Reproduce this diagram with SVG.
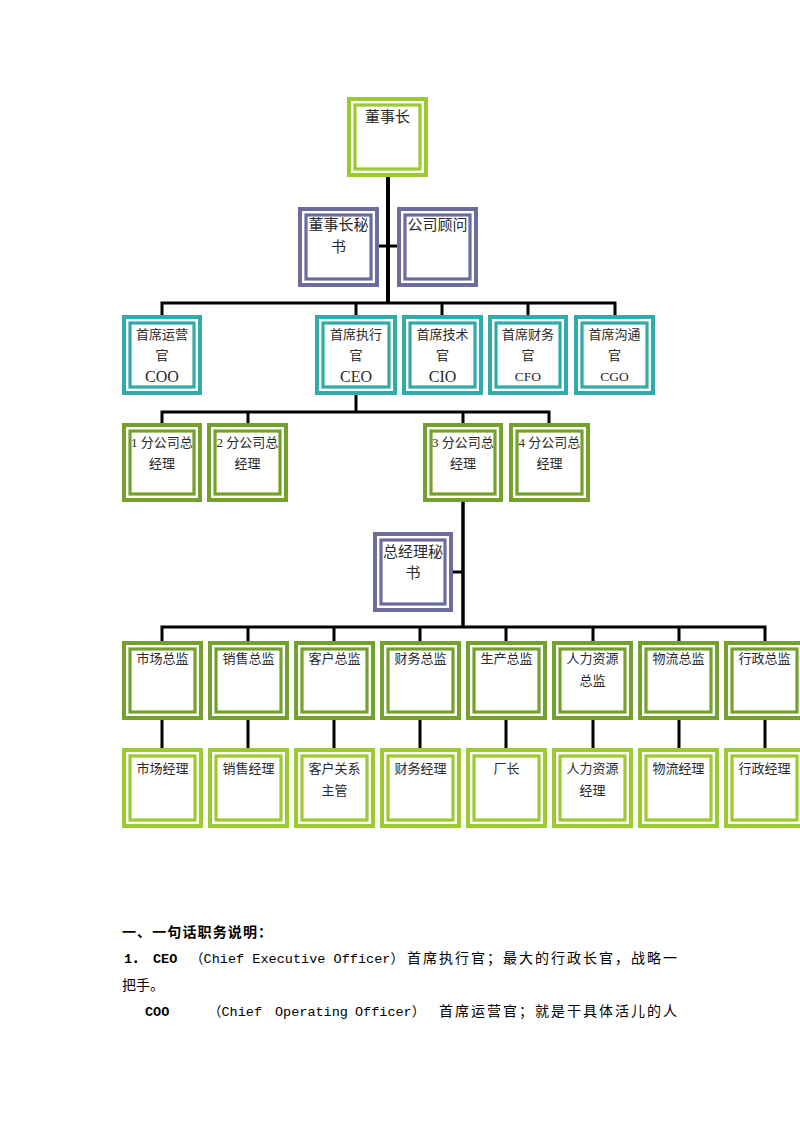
<svg xmlns="http://www.w3.org/2000/svg" width="800" height="1132" viewBox="0 0 800 1132">
<style>
  .o{fill:#fff;stroke-width:4}
  .i{fill:none;stroke-width:3.2}
  .lg{stroke:#9BCB2E}
  .dg{stroke:#74A12B}
  .pu{stroke:#6E6B9F}
  .te{stroke:#31AAAA}
  .t{font-family:"Liberation Serif","Noto Sans CJK SC",serif;fill:#2a2a2a;text-anchor:middle}
  .t15{font-size:15px}
  .t13{font-size:13px}
  .en16{font-size:16px}
  .en14{font-size:13.5px}
  .c{stroke:#000;stroke-width:3;fill:none}
  .m{font-family:"Liberation Mono","Noto Sans CJK SC",monospace;font-size:13.5px;fill:#000}
  .z{font-family:"Liberation Serif","Noto Sans CJK SC",serif;font-size:14px;fill:#000}
  .b{font-weight:bold}
</style>
<rect width="800" height="1132" fill="#fff"/>

<g id="connectors">
  <path class="c" d="M388 177V303" style="stroke-width:4"/>
  <path class="c" d="M379 246H397"/>
  <path class="c" d="M162 315V303H615V315M356 303V315M442 303V315M528 303V315"/>
  <path class="c" d="M356 395V412"/>
  <path class="c" d="M162 423V412H549V423M248 412V423M463 412V423"/>
  <path class="c" d="M463 502V627" style="stroke-width:3.5"/>
  <path class="c" d="M453 572H463"/>
  <path class="c" d="M162 641V627H765V641M248 627V641M334 627V641M420 627V641M506 627V641M593 627V641M679 627V641"/>
  <path class="c" d="M162 720V748M248 720V748M334 720V748M420 720V748M506 720V748M593 720V748M679 720V748M765 720V748"/>
</g>

<g id="chairman">
  <rect class="o lg" x="349" y="99" width="77" height="76"/>
  <rect class="i lg" x="355" y="105" width="65" height="64"/>
  <text class="t t15" x="387.5" y="122">董事长</text>
</g>
<g id="chairman-secretary">
  <rect class="o pu" x="300" y="209" width="77" height="76"/>
  <rect class="i pu" x="306" y="215" width="65" height="64"/>
  <text class="t t15" x="338.5" y="230">董事长秘</text>
  <text class="t t15" x="338.5" y="252">书</text>
</g>
<g id="advisor">
  <rect class="o pu" x="399" y="209" width="77" height="76"/>
  <rect class="i pu" x="405" y="215" width="65" height="64"/>
  <text class="t t15" x="437.5" y="230">公司顾问</text>
</g>

<g id="coo">
  <rect class="o te" x="124" y="317" width="76" height="76"/>
  <rect class="i te" x="130" y="323" width="64" height="64"/>
  <text class="t t13" x="162" y="339">首席运营</text>
  <text class="t t13" x="162" y="360">官</text>
  <text class="t en16" x="162" y="382">COO</text>
</g>
<g id="ceo">
  <rect class="o te" x="317" y="317" width="78" height="76"/>
  <rect class="i te" x="323" y="323" width="66" height="64"/>
  <text class="t t13" x="356" y="339">首席执行</text>
  <text class="t t13" x="356" y="360">官</text>
  <text class="t en16" x="356" y="382">CEO</text>
</g>
<g id="cio">
  <rect class="o te" x="404" y="317" width="77" height="76"/>
  <rect class="i te" x="410" y="323" width="65" height="64"/>
  <text class="t t13" x="442.5" y="339">首席技术</text>
  <text class="t t13" x="442.5" y="360">官</text>
  <text class="t en16" x="442.5" y="382">CIO</text>
</g>
<g id="cfo">
  <rect class="o te" x="490" y="317" width="76" height="76"/>
  <rect class="i te" x="496" y="323" width="64" height="64"/>
  <text class="t t13" x="528" y="339">首席财务</text>
  <text class="t t13" x="528" y="360">官</text>
  <text class="t en14" x="528" y="381">CFO</text>
</g>
<g id="cgo">
  <rect class="o te" x="576" y="317" width="77" height="76"/>
  <rect class="i te" x="582" y="323" width="65" height="64"/>
  <text class="t t13" x="614.5" y="339">首席沟通</text>
  <text class="t t13" x="614.5" y="360">官</text>
  <text class="t en14" x="614.5" y="381">CGO</text>
</g>

<g id="branch1">
  <rect class="o dg" x="124" y="425" width="76" height="75"/>
  <rect class="i dg" x="130" y="431" width="64" height="63"/>
  <text class="t t13" x="162" y="447">1 分公司总</text>
  <text class="t t13" x="162" y="468">经理</text>
</g>
<g id="branch2">
  <rect class="o dg" x="209" y="425" width="77" height="75"/>
  <rect class="i dg" x="215" y="431" width="65" height="63"/>
  <text class="t t13" x="247.5" y="447">2 分公司总</text>
  <text class="t t13" x="247.5" y="468">经理</text>
</g>
<g id="branch3">
  <rect class="o dg" x="425" y="425" width="76" height="75"/>
  <rect class="i dg" x="431" y="431" width="64" height="63"/>
  <text class="t t13" x="463" y="447">3 分公司总</text>
  <text class="t t13" x="463" y="468">经理</text>
</g>
<g id="branch4">
  <rect class="o dg" x="511" y="425" width="77" height="75"/>
  <rect class="i dg" x="517" y="431" width="65" height="63"/>
  <text class="t t13" x="549.5" y="447">4 分公司总</text>
  <text class="t t13" x="549.5" y="468">经理</text>
</g>

<g id="gm-secretary">
  <rect class="o pu" x="375" y="534" width="76" height="76"/>
  <rect class="i pu" x="381" y="540" width="64" height="64"/>
  <text class="t t15" x="413" y="557">总经理秘</text>
  <text class="t t15" x="413" y="578">书</text>
</g>

<g id="dir-market">
  <rect class="o dg" x="124" y="643" width="77" height="75"/>
  <rect class="i dg" x="130" y="649" width="65" height="63"/>
  <text class="t t13" x="162.5" y="663">市场总监</text>
</g>
<g id="dir-sales">
  <rect class="o dg" x="210" y="643" width="77" height="75"/>
  <rect class="i dg" x="216" y="649" width="65" height="63"/>
  <text class="t t13" x="248.5" y="663">销售总监</text>
</g>
<g id="dir-customer">
  <rect class="o dg" x="296" y="643" width="77" height="75"/>
  <rect class="i dg" x="302" y="649" width="65" height="63"/>
  <text class="t t13" x="334.5" y="663">客户总监</text>
</g>
<g id="dir-finance">
  <rect class="o dg" x="382" y="643" width="77" height="75"/>
  <rect class="i dg" x="388" y="649" width="65" height="63"/>
  <text class="t t13" x="420.5" y="663">财务总监</text>
</g>
<g id="dir-production">
  <rect class="o dg" x="468" y="643" width="77" height="75"/>
  <rect class="i dg" x="474" y="649" width="65" height="63"/>
  <text class="t t13" x="506.5" y="663">生产总监</text>
</g>
<g id="dir-hr">
  <rect class="o dg" x="554" y="643" width="77" height="75"/>
  <rect class="i dg" x="560" y="649" width="65" height="63"/>
  <text class="t t13" x="592.5" y="663">人力资源</text>
  <text class="t t13" x="592.5" y="685">总监</text>
</g>
<g id="dir-logistics">
  <rect class="o dg" x="640" y="643" width="77" height="75"/>
  <rect class="i dg" x="646" y="649" width="65" height="63"/>
  <text class="t t13" x="678.5" y="663">物流总监</text>
</g>
<g id="dir-admin">
  <rect class="o dg" x="726" y="643" width="77" height="75"/>
  <rect class="i dg" x="732" y="649" width="65" height="63"/>
  <text class="t t13" x="764.5" y="663">行政总监</text>
</g>

<g id="mgr-market">
  <rect class="o lg" x="124" y="750" width="77" height="76"/>
  <rect class="i lg" x="130" y="756" width="65" height="64"/>
  <text class="t t13" x="162.5" y="773">市场经理</text>
</g>
<g id="mgr-sales">
  <rect class="o lg" x="210" y="750" width="77" height="76"/>
  <rect class="i lg" x="216" y="756" width="65" height="64"/>
  <text class="t t13" x="248.5" y="773">销售经理</text>
</g>
<g id="mgr-customer">
  <rect class="o lg" x="296" y="750" width="77" height="76"/>
  <rect class="i lg" x="302" y="756" width="65" height="64"/>
  <text class="t t13" x="334.5" y="773">客户关系</text>
  <text class="t t13" x="334.5" y="795">主管</text>
</g>
<g id="mgr-finance">
  <rect class="o lg" x="382" y="750" width="77" height="76"/>
  <rect class="i lg" x="388" y="756" width="65" height="64"/>
  <text class="t t13" x="420.5" y="773">财务经理</text>
</g>
<g id="mgr-factory">
  <rect class="o lg" x="468" y="750" width="77" height="76"/>
  <rect class="i lg" x="474" y="756" width="65" height="64"/>
  <text class="t t13" x="506.5" y="773">厂长</text>
</g>
<g id="mgr-hr">
  <rect class="o lg" x="554" y="750" width="77" height="76"/>
  <rect class="i lg" x="560" y="756" width="65" height="64"/>
  <text class="t t13" x="592.5" y="773">人力资源</text>
  <text class="t t13" x="592.5" y="795">经理</text>
</g>
<g id="mgr-logistics">
  <rect class="o lg" x="640" y="750" width="77" height="76"/>
  <rect class="i lg" x="646" y="756" width="65" height="64"/>
  <text class="t t13" x="678.5" y="773">物流经理</text>
</g>
<g id="mgr-admin">
  <rect class="o lg" x="726" y="750" width="77" height="76"/>
  <rect class="i lg" x="732" y="756" width="65" height="64"/>
  <text class="t t13" x="764.5" y="773">行政经理</text>
</g>

<g id="notes">
  <text class="z b" x="122" y="937" textLength="150" lengthAdjust="spacing">一、一句话职务说明：</text>
  <text class="m b" x="124" y="963">1．</text>
  <text class="m b" x="153" y="963">CEO</text>
  <text class="m" x="190" y="963" textLength="214" lengthAdjust="spacing">（Chief Executive Officer）</text>
  <text class="z" x="407" y="963" textLength="270" lengthAdjust="spacing">首席执行官；最大的行政长官，战略一</text>
  <text class="z" x="122" y="990">把手。</text>
  <text class="m b" x="145" y="1016">COO</text>
  <text class="m" x="208" y="1016">（Chief</text>
  <text class="m" x="275" y="1016">Operating</text>
  <text class="m" x="355" y="1016">Officer）</text>
  <text class="z" x="439" y="1016" textLength="238" lengthAdjust="spacing">首席运营官；就是干具体活儿的人</text>
</g>
</svg>
